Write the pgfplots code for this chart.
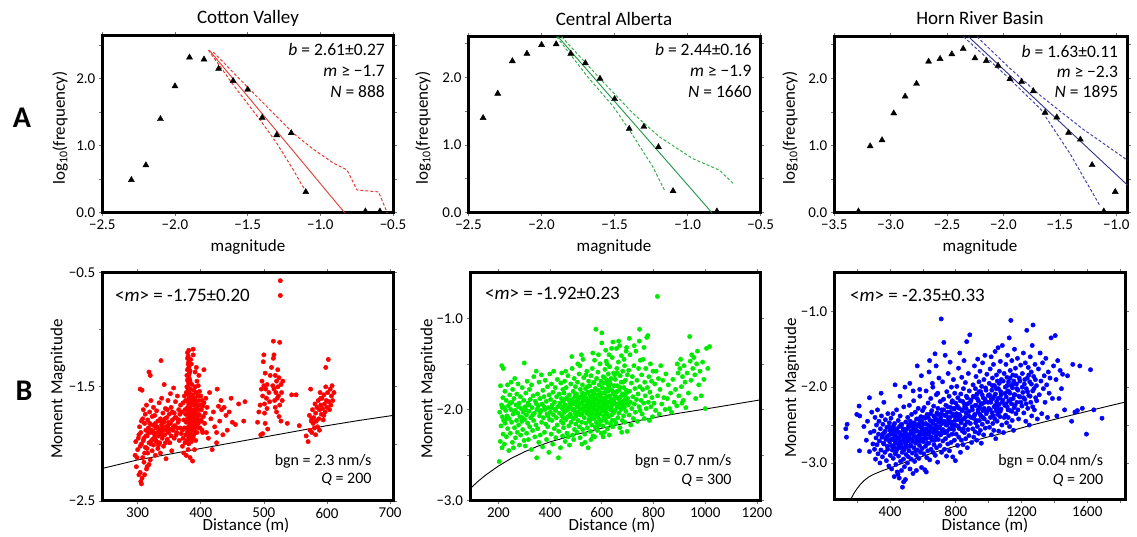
\documentclass[border=0pt]{standalone}
\usepackage{fontspec}
\setmainfont{Carlito}
\usepackage{pgfplots}
\pgfplotsset{compat=1.18}
\definecolor{fitred}{RGB}{225,60,50}
\definecolor{fitgreen}{RGB}{30,150,70}
\definecolor{fitgreenL}{RGB}{60,175,80}
\definecolor{fitblue}{RGB}{50,50,140}
\definecolor{fitblueL}{RGB}{70,70,170}
\definecolor{ptred}{RGB}{255,0,0}
\definecolor{ptgreen}{RGB}{0,235,0}
\definecolor{ptblue}{RGB}{0,0,255}
\pgfplotsset{
 panel/.style={scale only axis, anchor=south west,
   axis line style={line width=3pt, line join=miter},
   tick align=outside, major tick length=3.5pt,
   tick style={black!55, line width=0.7pt},
   ticklabel style={font=\fontsize{15}{17}\selectfont, text=black}},
 tri/.style={only marks, mark=triangle*, mark size=3.5pt, black},
 dots/.style={only marks, mark=*, mark size=2.2pt, mark options={draw=none, fill=#1}, color=#1},
}
\begin{document}
\begin{tikzpicture}[x=1pt,y=1pt]
\useasboundingbox (0,0) rectangle (1137,537);

% ---------------- A1 Cotton Valley
\begin{axis}[panel, at={(102.3pt,324.3pt)}, width=290.7pt, height=176.7pt,
  xmin=-2.5, xmax=-0.5, ymin=0, ymax=2.64,
  xtick={-2.5,-2,-1.5,-1,-0.5}, xticklabels={−2.5,−2.0,−1.5,−1.0,−0.5},
  ytick={0,0.5,1,1.5,2,2.5}, yticklabels={0.0,,1.0,,2.0,}, clip=false]
\addplot[fitred, line width=0.9pt] coordinates {(-1.765,2.43) (-0.833,0)};
\addplot[fitred, line width=1pt, dash pattern=on 3pt off 2pt] coordinates {(-1.736,2.40) (-1.494,1.86) (-1.185,1.185) (-1.05,0.95) (-0.909,0.74) (-0.817,0.64) (-0.748,0.34) (-0.599,0.31) (-0.54,0.0)};
\addplot[fitred, line width=1pt, dash pattern=on 3pt off 2pt] coordinates {(-1.770,2.43) (-1.598,1.906) (-1.414,1.384) (-1.299,1.036) (-1.185,0.637) (-1.127,0.413) (-1.104,0.34)};
\addplot[tri] coordinates {(-2.3,0.49) (-2.2,0.71) (-2.1,1.40) (-2.0,1.89) (-1.9,2.32) (-1.8,2.29) (-1.7,2.15) (-1.6,1.97) (-1.5,1.84) (-1.4,1.42) (-1.3,1.16) (-1.2,1.19) (-1.1,0.31) (-0.69,0.02) (-0.59,0.02)};
\end{axis}

% ---------------- A2 Central Alberta
\begin{axis}[panel, at={(468.5pt,324.3pt)}, width=292.2pt, height=176pt,
  xmin=-2.5, xmax=-0.5, ymin=0, ymax=2.6,
  xtick={-2.5,-2,-1.5,-1,-0.5}, xticklabels={−2.5,−2.0,−1.5,−1.0,−0.5},
  ytick={0,0.5,1,1.5,2,2.5}, yticklabels={0.0,,1.0,,2.0,}, clip=false]
\addplot[fitgreen, line width=0.9pt] coordinates {(-1.887,2.6) (-0.834,0)};
\addplot[fitgreenL, line width=1pt, dash pattern=on 3pt off 2pt] coordinates {(-1.863,2.6) (-1.591,1.96) (-1.375,1.47) (-1.193,1.12) (-0.966,0.80) (-0.784,0.63) (-0.682,0.42)};
\addplot[fitgreenL, line width=1pt, dash pattern=on 3pt off 2pt] coordinates {(-1.897,2.6) (-1.693,2.03) (-1.51,1.57) (-1.398,1.22) (-1.239,0.68) (-1.159,0.335)};
\addplot[tri] coordinates {(-2.4,1.40) (-2.3,1.76) (-2.2,2.24) (-2.1,2.35) (-2.0,2.48) (-1.9,2.49) (-1.8,2.35) (-1.7,2.21) (-1.6,1.98) (-1.5,1.68) (-1.4,1.24) (-1.3,1.27) (-1.2,0.97) (-1.1,0.32) (-0.8,0.02)};
\end{axis}

% ---------------- A3 Horn River Basin
\begin{axis}[panel, at={(834.3pt,324.3pt)}, width=293.2pt, height=176pt,
  xmin=-3.5, xmax=-0.9, ymin=0, ymax=2.62,
  xtick={-3.5,-3,-2.5,-2,-1.5,-1}, xticklabels={−3.5,−3.0,−2.5,−2.0,−1.5,−1.0},
  ytick={0,0.5,1,1.5,2,2.5}, yticklabels={0.0,,1.0,,2.0,}, clip=false]
\addplot[fitblue, line width=0.9pt] coordinates {(-2.31,2.62) (-0.9,0.41)};
\addplot[fitblueL, line width=1pt, dash pattern=on 3pt off 2pt] coordinates {(-2.235,2.62) (-1.95,2.16) (-1.67,1.74) (-1.3,1.25) (-0.9,0.78)};
\addplot[fitblueL, line width=1pt, dash pattern=on 3pt off 2pt] coordinates {(-2.354,2.62) (-1.95,2.0) (-1.67,1.54) (-1.41,0.88) (-1.15,0.12)};
\addplot[tri] coordinates {(-3.286,0.02) (-3.182,0.99) (-3.077,1.08) (-2.973,1.48) (-2.872,1.73) (-2.771,1.92) (-2.664,2.25) (-2.562,2.29) (-2.458,2.36) (-2.357,2.44) (-2.253,2.30) (-2.152,2.26) (-2.048,2.19) (-1.943,1.99) (-1.839,1.95) (-1.735,1.81) (-1.631,1.49) (-1.527,1.42) (-1.423,1.19) (-1.318,1.09) (-1.214,0.71) (-1.110,0.02) (-1.009,0.31)};
\end{axis}

% ---------------- B1 Cotton Valley
\begin{axis}[panel, at={(102.3pt,36pt)}, width=291pt, height=228.3pt,
  xmin=244, xmax=705, ymin=-2.5, ymax=-0.5,
  xtick={300,400,500,600,700}, xticklabels={300,400,500,600,700},
  ytick={-2.5,-2,-1.5,-1,-0.5}, yticklabels={−2.5,,−1.5,,−0.5}]
\addplot[dots=ptred] coordinates {
(296,-2.10)(298,-2.20)(300,-2.05)(301,-1.95)(302,-2.27)(303,-1.85)(304,-1.52)(305,-2.33)(305,-1.90)(306,-2.00)(307,-1.53)(308,-1.78)(308,-2.12)(309,-1.70)(310,-1.95)(310,-2.16)(311,-1.82)(312,-2.03)(312,-1.74)(313,-1.88)(314,-2.22)(314,-1.66)(315,-1.93)(316,-1.79)(316,-2.08)(317,-1.86)(318,-1.99)(318,-1.37)(319,-1.72)(320,-1.90)(320,-2.14)(321,-1.62)(321,-1.83)(322,-1.97)(323,-1.76)(323,-2.06)(324,-1.89)(325,-1.68)(325,-2.01)(326,-1.84)(327,-1.94)(327,-1.75)(328,-2.10)(329,-1.86)(330,-1.98)(330,-1.71)(331,-1.90)(332,-1.80)(332,-2.04)(333,-1.93)(334,-1.64)(334,-1.87)(335,-1.99)(336,-1.78)(336,-2.08)(337,-1.27)(337,-1.91)(338,-1.83)(338,-1.60)(339,-1.95)(340,-1.73)(340,-1.88)(341,-2.02)(342,-1.81)(342,-1.48)(343,-1.92)(344,-1.69)(345,-1.85)(345,-2.13)(346,-1.77)(347,-1.96)(348,-1.62)(348,-1.84)(349,-1.90)(350,-1.74)(351,-1.99)(352,-1.56)(352,-1.82)(353,-1.68)(354,-2.06)(355,-1.79)(356,-1.88)(357,-1.51)(358,-1.73)(358,-1.95)(359,-1.84)(360,-1.63)(361,-1.77)(362,-1.90)(363,-1.58)(364,-1.81)(365,-1.70)(366,-1.97)(367,-1.86)(368,-1.66)
(304,-2.25)(307,-2.30)(311,-2.27)(306,-2.35)(315,-2.20)(318,-2.18)(320,-1.40)
(297,-1.98)(299,-2.12)(302,-1.92)(304,-2.02)(306,-1.80)(309,-1.97)(311,-2.08)(313,-1.93)(315,-2.04)(317,-1.90)(319,-1.82)(321,-2.00)(322,-1.88)(324,-1.96)(326,-1.91)(328,-1.82)(329,-1.97)(331,-1.85)(333,-2.01)(335,-1.88)(337,-1.80)(339,-1.86)(341,-1.92)(343,-1.78)(344,-1.99)(346,-1.88)(347,-1.70)(349,-1.81)(351,-1.87)(353,-1.93)(355,-1.72)(357,-1.85)(359,-1.77)(361,-1.92)(363,-1.86)(365,-1.79)(367,-1.74)(369,-1.91)
(370,-1.72)(371,-1.88)(371,-2.02)(372,-1.64)(372,-1.95)(373,-1.79)(373,-2.08)(374,-1.58)(374,-1.86)(375,-1.70)(375,-1.99)(376,-1.92)(376,-1.62)(377,-1.81)(377,-2.10)(378,-1.50)(378,-1.74)(378,-1.97)(379,-1.25)(379,-1.35)(379,-1.44)(379,-1.56)(379,-1.68)(379,-1.89)(380,-1.30)(380,-1.40)(380,-1.52)(380,-1.63)(380,-1.78)(380,-1.93)(380,-2.05)(381,-1.18)(381,-1.33)(381,-1.47)(381,-1.60)(381,-1.72)(381,-1.85)(381,-2.00)(382,-1.38)(382,-1.55)(382,-1.66)(382,-1.82)(382,-1.95)(383,-1.45)(383,-1.59)(383,-1.76)(383,-1.90)(383,-2.12)(384,-1.52)(384,-1.70)(384,-1.87)(385,-1.62)(385,-1.80)(385,-1.98)(386,-1.48)(386,-1.74)(386,-1.92)(387,-1.57)(387,-1.84)(387,-2.15)(388,-1.66)(388,-1.17)(388,-1.95)(389,-1.53)(389,-1.78)(390,-1.60)(390,-1.88)(390,-2.05)(391,-1.50)(391,-1.72)(392,-1.64)(392,-1.83)(392,-1.97)(393,-1.55)(393,-1.76)(394,-1.45)(394,-1.68)(394,-1.90)(395,-1.58)(395,-1.80)(396,-1.49)(396,-1.70)(397,-1.62)(397,-1.86)(398,-1.54)(398,-1.75)(399,-1.66)(400,-1.58)(400,-1.79)(401,-1.70)(402,-1.62)(402,-1.88)(403,-1.67)(404,-1.76)(405,-1.35)(406,-1.82)(407,-1.73)(408,-1.60)(409,-1.90)(410,-1.68)
(393,-1.33)(397,-1.40)(391,-1.37)(385,-1.30)(384,-1.26)(388,-1.22)
(376,-1.74)(377,-1.55)(378,-1.86)(379,-1.78)(380,-1.70)(380,-1.86)(381,-1.92)(381,-1.65)(382,-1.75)(382,-1.88)(383,-1.68)(383,-1.82)(384,-1.60)(384,-1.78)(384,-1.95)(385,-1.70)(385,-1.88)(386,-1.58)(386,-1.83)(387,-1.65)(387,-1.76)(388,-1.86)(388,-1.72)(389,-1.63)(389,-1.92)(390,-1.70)(390,-1.80)(391,-1.62)(391,-1.90)(392,-1.74)(393,-1.68)(393,-1.85)(394,-1.78)(395,-1.66)(396,-1.82)(397,-1.74)(399,-1.86)(401,-1.80)(403,-1.90)(405,-1.64)
(379,-1.20)(380,-1.23)(381,-1.28)(380,-1.45)(379,-1.50)(378,-1.40)(382,-1.31)(383,-1.36)(382,-1.43)(381,-1.40)(380,-1.35)
(412,-1.95)(414,-1.55)(416,-1.78)(418,-2.05)(420,-1.72)(422,-1.85)(425,-1.90)(426,-1.52)(428,-1.67)(430,-1.80)(433,-1.70)(435,-1.92)(437,-1.68)(440,-1.75)(445,-1.72)(448,-1.60)(450,-1.81)(455,-1.83)(460,-1.65)(468,-1.80)(470,-1.63)(425,-1.99)(432,-1.62)(442,-1.88)
(490,-1.81)(492,-1.72)(494,-1.66)(495,-1.92)(496,-1.52)(497,-1.45)(498,-1.58)(499,-1.28)(500,-1.22)(500,-1.49)(501,-1.65)(501,-1.73)(502,-1.38)(502,-1.82)(503,-1.52)(504,-1.60)(505,-1.69)(505,-1.48)(506,-1.87)(508,-1.55)(510,-1.40)(512,-1.33)(514,-1.49)(515,-1.10)(515,-1.25)(516,-1.22)(516,-1.52)(517,-1.62)(518,-1.40)(518,-1.68)(519,-1.55)(520,-1.45)(520,-1.72)(521,-1.60)(522,-1.35)(522,-1.50)(523,-1.58)(524,-1.42)(525,-1.66)(525,-1.11)(526,-0.57)(526,-0.70)(527,-1.48)(528,-1.55)(529,-1.62)(530,-1.45)(498,-1.91)(509,-1.63)(524,-1.76)(527,-1.80)
(544,-1.57)(551,-1.57)(556,-1.84)(537,-1.82)
(567,-1.93)(570,-1.98)(572,-1.75)(573,-1.88)(574,-1.52)(575,-1.80)(576,-1.90)(577,-1.70)(578,-1.82)(579,-1.77)(580,-1.86)(581,-1.65)(582,-1.73)(583,-1.80)(584,-1.68)(585,-1.85)(586,-1.62)(587,-1.78)(588,-1.70)(589,-1.55)(590,-1.66)(591,-1.74)(592,-1.60)(593,-1.69)(594,-1.79)(595,-1.57)(596,-1.65)(597,-1.72)(598,-1.50)(598,-1.33)(599,-1.62)(600,-1.68)(601,-1.55)(602,-1.26)(603,-1.63)(604,-1.70)(605,-1.52)(606,-1.66)(607,-1.58)(608,-1.49)(609,-1.62)(611,-1.55)(588,-1.88)(582,-1.92)(576,-1.78)(595,-1.75)(590,-1.60)
};
\addplot[black, line width=0.9pt] coordinates {(244,-2.215)(300,-2.14)(350,-2.09)(400,-2.04)(450,-1.99)(500,-1.94)(550,-1.89)(600,-1.84)(650,-1.795)(705,-1.75)};
\end{axis}

% ---------------- B2 Central Alberta
\begin{axis}[panel, at={(470pt,36.3pt)}, width=290pt, height=228pt,
  xmin=90, xmax=1212, ymin=-3, ymax=-0.5,
  xtick={200,400,600,800,1000,1200}, xticklabels={200,400,600,800,1000,1200},
  ytick={-3,-2.5,-2,-1.5,-1}, yticklabels={−3.0,,−2.0,,−1.0}]
\addplot[dots=ptgreen] coordinates {
(203,-2.57)(205,-2.03)(207,-2.35)(208,-1.74)(210,-2.18)(212,-1.95)(213,-1.52)(214,-2.42)(215,-2.08)(217,-1.87)(218,-2.27)(219,-1.55)(220,-2.12)(222,-1.98)(223,-2.38)(225,-1.80)(226,-2.15)(228,-2.01)(230,-1.90)(231,-2.30)(233,-2.07)(235,-1.73)(236,-2.21)(238,-1.96)(240,-2.45)(242,-2.10)(244,-1.84)(246,-2.26)(248,-2.00)(249,-1.70)
(251,-2.14)(252,-1.92)(254,-2.36)(255,-1.78)(257,-2.05)(258,-2.42)(260,-1.88)(262,-2.20)(263,-1.66)(265,-2.01)(266,-2.31)(268,-1.95)(270,-2.12)(271,-1.83)(273,-2.25)(275,-2.04)(276,-1.72)(278,-2.17)(280,-1.93)(281,-2.39)(283,-2.08)(285,-1.86)(286,-2.28)(288,-1.99)(290,-2.13)(292,-1.76)(294,-2.22)(296,-2.03)(298,-1.90)(299,-2.34)
(300,-1.49)(301,-2.11)(303,-1.97)(304,-2.40)(306,-1.82)(308,-2.06)(309,-2.26)(311,-1.69)(313,-2.15)(314,-1.93)(316,-2.33)(318,-2.02)(320,-1.78)(321,-2.19)(323,-1.89)(325,-2.09)(327,-2.44)(328,-1.73)(330,-1.98)(332,-2.23)(334,-1.85)(336,-2.12)(337,-1.64)(339,-2.04)(341,-2.30)(343,-1.91)(345,-2.17)(346,-1.58)(348,-2.53)(349,-2.00)
(351,-1.83)(352,-2.21)(354,-1.96)(356,-2.36)(357,-1.70)(359,-2.07)(361,-1.88)(362,-2.28)(364,-2.01)(366,-1.62)(367,-2.14)(369,-1.94)(371,-2.41)(372,-1.79)(374,-2.09)(376,-1.86)(378,-2.25)(379,-2.00)(381,-1.68)(383,-2.16)(385,-1.91)(386,-2.33)(388,-2.05)(390,-1.75)(391,-2.19)(393,-1.98)(395,-2.47)(396,-1.84)(398,-2.11)(399,-1.61)
(401,-2.03)(402,-1.89)(404,-2.27)(405,-1.72)(407,-2.12)(408,-1.95)(410,-2.38)(411,-1.81)(413,-2.06)(414,-1.58)(416,-2.21)(417,-1.92)(419,-2.00)(420,-1.76)(422,-2.31)(424,-2.09)(425,-1.86)(427,-2.17)(428,-1.67)(430,-1.97)(432,-2.53)(433,-2.24)(435,-1.83)(436,-2.04)(438,-1.93)(440,-2.42)(441,-1.71)(443,-2.13)(444,-1.88)(446,-2.07)(447,-1.99)(448,-2.29)(449,-1.78)(450,-2.15)(445,-1.60)
(451,-1.91)(452,-2.20)(454,-1.82)(455,-2.03)(456,-1.69)(458,-2.35)(459,-1.95)(461,-2.11)(462,-1.76)(463,-2.01)(465,-2.26)(466,-1.87)(468,-2.08)(469,-1.63)(471,-1.98)(472,-2.18)(474,-1.84)(475,-2.39)(477,-1.93)(478,-2.05)(480,-1.72)(481,-2.14)(483,-1.89)(484,-1.42)(486,-2.00)(487,-2.28)(489,-1.80)(490,-2.10)(492,-1.94)(493,-1.66)(494,-2.22)(496,-1.86)(497,-2.04)(498,-1.75)(499,-2.16)(500,-1.91)(485,-1.55)(470,-2.30)(460,-1.58)(491,-2.33)
(501,-2.07)(502,-1.83)(504,-2.25)(505,-1.97)(506,-1.70)(508,-2.12)(509,-1.89)(510,-2.03)(512,-1.61)(513,-2.19)(514,-1.94)(516,-2.31)(517,-1.78)(518,-2.06)(520,-1.86)(521,-1.40)(522,-2.14)(524,-1.99)(525,-1.73)(526,-2.22)(528,-1.91)(529,-2.01)(530,-1.65)(532,-2.09)(533,-1.84)(534,-2.27)(536,-1.96)(537,-1.77)(538,-2.15)(540,-1.88)(541,-2.04)(542,-1.58)(544,-2.20)(545,-1.93)(546,-1.81)(547,-2.42)(548,-2.00)(549,-1.69)(550,-2.11)(515,-1.52)(527,-1.45)(535,-2.36)(507,-1.50)(523,-2.38)(539,-1.62)
(551,-1.90)(552,-2.13)(553,-1.74)(554,-2.02)(555,-1.85)(556,-2.24)(557,-1.96)(558,-1.63)(559,-2.08)(560,-1.80)(561,-2.17)(562,-1.92)(563,-1.55)(564,-2.04)(565,-1.87)(566,-2.29)(567,-1.98)(568,-1.71)(569,-2.10)(570,-1.83)(571,-2.00)(572,-1.46)(573,-1.94)(574,-2.19)(575,-1.77)(576,-2.06)(577,-1.12)(578,-1.89)(579,-2.14)(580,-1.66)(581,-2.01)(582,-1.84)(583,-2.23)(584,-1.95)(585,-1.59)(586,-2.09)(587,-1.79)(588,-1.99)(589,-2.16)(590,-1.73)(591,-1.91)(592,-2.05)(593,-1.50)(594,-1.86)(595,-2.12)(596,-1.97)(597,-1.69)(598,-2.26)(599,-1.82)(600,-1.16)(600,-1.27)(558,-2.33)(572,-2.30)(587,-1.40)(565,-1.38)
(601,-2.02)(602,-1.76)(603,-1.93)(604,-2.18)(605,-1.64)(606,-1.88)(607,-2.07)(608,-1.71)(609,-1.99)(610,-2.25)(611,-1.82)(612,-1.56)(613,-2.11)(614,-1.90)(615,-1.78)(616,-2.03)(617,-1.47)(618,-1.95)(619,-2.14)(620,-1.68)(621,-1.86)(622,-2.21)(623,-1.80)(624,-1.98)(625,-1.61)(626,-2.08)(627,-1.75)(628,-1.92)(629,-2.28)(630,-1.53)(631,-1.85)(632,-2.00)(633,-1.72)(634,-2.16)(635,-1.89)(636,-1.66)(637,-1.97)(638,-2.06)(639,-1.79)(640,-1.43)(641,-1.94)(642,-2.19)(643,-1.26)(644,-1.83)(645,-2.04)(646,-1.60)(647,-1.91)(648,-1.74)(649,-2.12)(650,-1.87)(615,-1.35)(628,-1.40)(605,-2.30)(638,-1.33)(620,-1.50)
(651,-2.01)(652,-1.67)(654,-1.94)(655,-2.15)(656,-1.81)(658,-1.55)(659,-1.98)(660,-1.74)(662,-2.09)(663,-1.88)(664,-1.48)(666,-2.04)(667,-1.79)(668,-1.93)(670,-2.20)(671,-1.63)(672,-1.86)(674,-2.00)(675,-1.70)(676,-1.41)(678,-1.97)(679,-2.12)(680,-1.83)(681,-1.58)(683,-1.95)(684,-2.07)(685,-1.76)(687,-1.90)(688,-1.52)(689,-2.14)(690,-1.85)(691,-1.68)(693,-2.02)(694,-1.36)(695,-1.79)(697,-1.93)(698,-2.24)(699,-1.62)(700,-1.88)(657,-1.33)(669,-1.30)(686,-1.45)(677,-2.25)(665,-1.25)(696,-1.32)
(702,-1.95)(704,-1.57)(705,-2.06)(707,-1.80)(709,-1.40)(710,-1.92)(712,-2.17)(714,-1.71)(716,-1.99)(718,-1.64)(720,-1.86)(722,-2.10)(724,-1.52)(726,-1.94)(728,-1.77)(730,-2.03)(732,-1.36)(734,-1.89)(736,-1.68)(738,-2.13)(740,-1.83)(742,-1.55)(744,-1.97)(746,-1.12)(747,-1.75)(748,-2.01)(749,-1.46)(706,-1.22)(725,-1.30)(745,-1.25)
(752,-1.90)(754,-1.62)(756,-2.05)(758,-1.78)(760,-1.45)(762,-1.93)(764,-2.10)(766,-1.70)(768,-1.85)(770,-1.55)(772,-1.99)(774,-1.21)(776,-1.76)(778,-1.19)(780,-1.92)(782,-1.64)(784,-2.12)(786,-1.81)(788,-1.50)(790,-1.97)(792,-1.69)(794,-1.87)(796,-2.08)(798,-1.58)(763,-1.32)
(802,-1.93)(805,-1.72)(808,-2.01)(810,-1.58)(815,-0.76)(816,-1.85)(819,-1.66)(822,-2.05)(825,-1.78)(828,-1.52)(832,-1.94)(836,-1.68)(840,-1.87)(845,-2.00)(848,-1.61)
(853,-1.88)(857,-1.73)(862,-1.99)(866,-1.82)(870,-2.03)(875,-1.67)(880,-1.92)(885,-1.78)(890,-1.96)(895,-1.60)(898,-1.85)(892,-1.50)
(902,-1.55)(905,-1.45)(908,-1.75)(912,-1.64)(915,-1.90)(918,-1.52)(922,-1.70)(925,-1.98)(930,-1.60)(935,-1.82)(940,-1.20)(942,-1.47)(945,-1.68)(948,-1.40)(910,-1.93)
(952,-1.55)(956,-1.43)(960,-1.62)(963,-1.88)(967,-1.50)(970,-1.36)(975,-1.73)(980,-1.58)(985,-1.85)(990,-1.48)(995,-1.67)(1000,-1.99)(1005,-1.33)(1010,-1.55)(1017,-1.31)
(455,-1.96)(462,-1.88)(468,-2.00)(473,-1.90)(478,-1.97)(482,-2.08)(488,-1.92)(493,-2.00)(497,-1.83)(503,-1.95)(507,-2.03)(511,-1.87)(515,-1.99)(519,-1.93)(523,-2.05)(527,-1.88)(531,-1.96)(535,-1.83)(539,-2.01)(543,-1.90)(547,-1.97)(551,-2.06)(555,-1.94)(559,-1.87)(563,-2.00)(567,-1.91)(571,-1.80)(575,-1.96)(579,-1.88)(583,-2.03)(587,-1.93)(591,-1.84)(595,-1.98)(599,-1.90)(603,-1.82)(607,-1.95)(611,-2.00)(615,-1.87)(619,-1.93)(623,-1.72)(627,-1.98)(631,-1.92)(635,-1.78)(639,-2.01)(643,-1.90)(647,-1.81)(651,-1.94)(655,-1.86)(659,-1.80)(663,-1.97)(667,-1.88)(671,-1.76)(675,-1.92)(679,-1.84)(683,-1.70)(687,-1.98)(691,-1.91)(695,-1.82)
(560,-2.10)(580,-2.20)(600,-2.12)(620,-2.05)(640,-2.12)(590,-2.17)(570,-1.70)(610,-1.65)(630,-1.70)(650,-1.62)(660,-1.60)(545,-1.75)(525,-1.82)
(262,-2.02)(278,-1.97)(292,-2.09)(305,-2.00)(318,-1.95)(333,-2.06)(347,-1.94)(362,-2.03)(377,-1.97)(392,-2.07)(406,-1.98)(421,-2.01)(437,-1.95)(452,-2.09)(215,-1.98)(232,-2.10)(245,-1.93)
};
\addplot[black, line width=0.9pt] coordinates {(90,-2.87)(120,-2.79)(150,-2.72)(200,-2.62)(250,-2.535)(300,-2.465)(350,-2.405)(400,-2.355)(500,-2.275)(600,-2.205)(700,-2.145)(800,-2.09)(900,-2.04)(1000,-1.995)(1100,-1.948)(1212,-1.895)};
\end{axis}

% ---------------- B3 Horn River Basin
\begin{axis}[panel, at={(834.3pt,37.7pt)}, width=290.7pt, height=226.6pt,
  xmin=60, xmax=1830, ymin=-3.48, ymax=-0.49,
  xtick={200,400,600,800,1000,1200,1400,1600,1800}, xticklabels={,400,,800,,1200,,1600,},
  ytick={-3,-2.5,-2,-1.5,-1}, yticklabels={−3.0,,−2.0,,−1.0}]
\addplot[dots=ptblue] coordinates {
(130,-2.55)(134,-2.66)(138,-2.49)(197,-2.36)(211,-2.25)(213,-2.84)(215,-2.38)(240,-2.52)(255,-2.70)(262,-2.45)(274,-2.14)(274,-2.85)(280,-2.60)(288,-2.33)(295,-2.75)
(302,-2.58)(305,-2.82)(308,-2.40)(311,-2.95)(314,-2.67)(317,-2.50)(320,-2.76)(323,-2.30)(326,-2.88)(329,-2.62)(332,-2.45)(335,-2.71)(338,-3.00)(341,-2.55)(344,-2.83)(347,-2.38)(350,-2.66)(353,-2.92)(356,-2.49)(359,-2.74)(362,-2.20)(365,-2.60)(368,-2.86)(371,-2.43)(374,-2.69)(377,-2.97)(380,-2.53)(383,-2.78)(386,-2.35)(389,-2.64)(392,-3.04)(395,-2.47)(397,-2.72)(399,-2.57)(345,-2.08)
(401,-2.90)(403,-2.62)(405,-2.41)(407,-2.77)(409,-3.08)(411,-2.55)(413,-2.83)(415,-2.68)(417,-2.35)(419,-2.94)(421,-2.60)(423,-2.79)(425,-3.18)(427,-2.48)(429,-2.71)(431,-2.88)(433,-2.56)(435,-3.02)(437,-2.65)(439,-2.30)(441,-2.82)(443,-3.12)(445,-2.59)(447,-2.74)(449,-2.44)(451,-2.91)(453,-2.67)(455,-3.20)(457,-2.52)(459,-2.80)(461,-2.38)(463,-2.98)(465,-2.63)(467,-2.76)(469,-3.10)(471,-2.49)(473,-2.86)(475,-3.32)(477,-2.70)(479,-2.57)(481,-2.95)(483,-2.26)(485,-2.83)(487,-3.05)(489,-2.61)(491,-2.73)(493,-3.22)(495,-2.46)(497,-2.89)(499,-2.66)(430,-1.97)(460,-2.12)(482,-3.25)(448,-3.15)(490,-2.00)
(501,-2.79)(503,-2.55)(505,-3.00)(507,-2.40)(509,-2.71)(511,-2.92)(513,-2.50)(515,-2.84)(517,-2.24)(519,-2.63)(521,-3.08)(523,-2.45)(525,-2.76)(527,-2.58)(529,-2.95)(531,-2.36)(533,-2.69)(535,-2.87)(537,-2.52)(539,-3.14)(541,-2.61)(543,-2.18)(545,-2.80)(547,-2.47)(549,-2.98)(551,-2.66)(553,-2.33)(555,-2.74)(557,-2.56)(559,-2.90)(561,-2.42)(563,-2.70)(565,-1.72)(567,-2.83)(569,-2.51)(571,-2.28)(573,-2.64)(575,-2.94)(577,-2.48)(579,-2.77)(581,-2.12)(583,-2.59)(585,-2.86)(587,-2.39)(589,-2.68)(591,-3.06)(593,-2.54)(595,-2.81)(597,-2.31)(599,-2.62)(520,-1.95)(580,-2.03)(560,-3.10)(590,-1.85)(540,-2.05)
(601,-2.72)(603,-2.49)(605,-2.88)(607,-2.27)(609,-2.60)(611,-3.09)(613,-2.41)(615,-2.78)(617,-2.55)(619,-2.05)(621,-2.68)(623,-2.93)(625,-2.36)(627,-2.62)(629,-2.84)(631,-2.21)(633,-2.50)(635,-2.74)(637,-1.80)(639,-2.58)(641,-2.96)(643,-2.44)(645,-2.67)(647,-2.15)(649,-2.82)(651,-2.53)(653,-2.31)(655,-2.70)(657,-1.95)(659,-2.47)(661,-2.86)(663,-2.60)(665,-2.25)(667,-2.76)(669,-2.39)(671,-2.57)(673,-1.56)(675,-2.90)(677,-2.43)(679,-2.65)(681,-2.10)(683,-2.80)(685,-2.34)(687,-2.54)(689,-2.99)(691,-2.28)(693,-2.69)(695,-2.46)(697,-1.88)(699,-2.61)(620,-3.12)(640,-1.65)(660,-2.00)(680,-1.72)(690,-2.08)
(701,-2.52)(703,-2.77)(705,-2.19)(707,-2.63)(709,-2.40)(711,-1.10)(713,-2.86)(715,-2.30)(717,-2.57)(719,-1.93)(721,-2.71)(723,-2.45)(725,-2.16)(727,-1.41)(729,-2.60)(731,-2.82)(733,-2.37)(735,-1.58)(737,-2.68)(739,-2.24)(741,-2.50)(743,-2.91)(745,-2.06)(747,-2.58)(749,-2.33)(751,-2.75)(753,-1.82)(755,-2.47)(757,-2.64)(759,-2.12)(761,-2.84)(763,-2.40)(765,-1.67)(767,-2.55)(769,-2.27)(771,-2.73)(773,-2.00)(775,-2.49)(777,-2.62)(779,-2.18)(781,-2.92)(783,-2.36)(785,-1.90)(787,-2.56)(789,-2.29)(791,-2.70)(793,-2.08)(795,-2.44)(797,-2.97)(799,-2.21)
(802,-2.62)(804,-2.35)(806,-1.99)(808,-2.51)(810,-2.77)(812,-2.14)(814,-2.43)(816,-1.75)(818,-2.66)(820,-2.28)(822,-2.55)(824,-1.55)(826,-2.38)(828,-2.86)(830,-2.09)(832,-2.47)(834,-2.70)(836,-1.87)(838,-2.31)(840,-2.58)(842,-2.19)(844,-2.76)(846,-2.02)(848,-2.42)(850,-1.65)(852,-2.60)(854,-2.26)(856,-2.50)(858,-1.94)(860,-2.68)(862,-2.34)(864,-2.12)(866,-1.40)(868,-2.46)(870,-2.80)(872,-2.22)(874,-2.56)(876,-1.82)(878,-2.38)(880,-2.64)(882,-2.05)(885,-1.31)(888,-2.48)(892,-2.17)(896,-2.73)
(901,-2.30)(903,-2.55)(905,-1.97)(907,-2.41)(909,-2.66)(911,-2.13)(913,-1.72)(915,-2.36)(917,-2.59)(919,-2.02)(921,-2.47)(923,-1.86)(925,-2.24)(927,-2.70)(929,-2.09)(931,-2.52)(933,-1.63)(935,-2.33)(937,-2.18)(939,-2.61)(941,-1.93)(943,-2.44)(945,-2.27)(947,-1.79)(949,-2.57)(951,-2.06)(953,-2.38)(955,-2.74)(957,-1.99)(959,-2.22)(961,-2.49)(963,-1.68)(965,-2.31)(967,-2.14)(969,-2.63)(971,-1.90)(973,-2.42)(975,-2.20)(977,-1.58)(979,-2.54)(981,-2.01)(985,-2.35)(989,-1.83)(993,-2.46)(997,-2.11)
(1001,-2.28)(1003,-1.95)(1005,-2.53)(1007,-2.12)(1009,-1.76)(1011,-2.40)(1013,-2.20)(1015,-1.60)(1017,-2.63)(1019,-2.04)(1021,-2.34)(1023,-1.88)(1025,-2.48)(1027,-2.15)(1029,-1.70)(1031,-2.57)(1033,-2.26)(1035,-1.98)(1037,-2.42)(1039,-1.53)(1041,-2.09)(1043,-2.68)(1045,-2.31)(1047,-1.84)(1049,-2.19)(1051,-2.45)(1053,-1.92)(1055,-2.36)(1057,-1.48)(1059,-2.02)(1061,-2.58)(1063,-2.23)(1065,-1.79)(1067,-2.14)(1069,-2.39)(1071,-1.66)(1073,-2.06)(1075,-2.29)(1077,-1.90)(1080,-2.50)(1083,-1.45)(1086,-2.17)(1090,-2.60)(1094,-1.82)(1098,-2.24)
(1101,-2.00)(1103,-2.37)(1105,-1.70)(1107,-2.13)(1109,-2.47)(1111,-1.87)(1113,-2.26)(1115,-1.58)(1117,-2.05)(1119,-2.40)(1121,-1.93)(1123,-2.18)(1125,-1.35)(1127,-2.52)(1129,-2.08)(1131,-1.78)(1133,-2.31)(1135,-1.12)(1137,-1.98)(1139,-2.22)(1141,-1.65)(1143,-2.44)(1145,-2.01)(1147,-1.84)(1149,-2.15)(1151,-2.57)(1153,-1.92)(1155,-2.27)(1157,-1.50)(1160,-2.10)(1163,-1.75)(1166,-2.35)(1169,-1.96)(1172,-2.20)(1175,-1.62)(1178,-2.04)(1182,-2.42)(1186,-1.88)(1190,-2.13)(1195,-1.71)
(1202,-2.25)(1205,-1.82)(1208,-2.07)(1211,-1.55)(1214,-2.34)(1217,-1.96)(1220,-2.16)(1223,-1.68)(1226,-2.45)(1229,-2.02)(1232,-1.25)(1235,-1.88)(1238,-2.28)(1241,-1.74)(1244,-2.11)(1247,-2.50)(1250,-1.93)(1253,-1.60)(1256,-2.20)(1259,-1.80)(1262,-2.38)(1265,-1.45)(1268,-2.05)(1270,-1.18)(1274,-1.86)(1278,-2.30)(1282,-1.70)(1286,-2.14)(1291,-1.98)(1296,-2.42)
(1303,-1.76)(1308,-2.10)(1313,-1.55)(1318,-1.92)(1323,-2.35)(1328,-1.68)(1333,-2.02)(1338,-1.85)(1343,-2.20)(1348,-1.62)(1353,-1.97)(1358,-2.40)(1363,-1.80)(1368,-2.08)(1373,-1.88)(1380,-1.35)(1388,-2.15)(1395,-1.72)
(1405,-1.32)(1410,-1.90)(1415,-2.38)(1420,-1.65)(1428,-2.15)(1435,-1.78)(1443,-2.02)(1450,-1.83)(1462,-2.30)(1480,-1.85)
(1505,-2.45)(1512,-1.70)(1525,-2.33)(1540,-2.31)(1555,-1.72)(1570,-2.28)(1595,-2.62)(1620,-1.77)(1640,-2.30)(1690,-2.41)
(355,-2.62)(362,-2.75)(370,-2.58)(378,-2.66)(385,-2.82)(391,-2.52)(398,-2.70)(404,-2.58)(410,-2.69)(416,-2.78)(420,-2.51)(426,-2.63)(432,-2.74)(436,-2.85)(442,-2.55)(446,-2.68)(452,-2.78)(456,-2.60)(462,-2.72)(466,-2.50)(472,-2.64)(476,-2.80)(480,-2.55)(486,-2.68)(492,-2.58)(496,-2.76)(502,-2.62)(506,-2.70)(512,-2.53)(516,-2.66)(522,-2.78)(526,-2.48)(532,-2.60)(536,-2.71)(542,-2.56)(546,-2.65)(552,-2.50)(556,-2.84)(562,-2.58)(566,-2.66)(572,-2.42)(576,-2.72)(582,-2.52)(586,-2.62)(592,-2.45)(596,-2.70)(602,-2.58)(606,-2.40)(612,-2.66)(616,-2.48)(622,-2.56)(626,-2.74)(632,-2.40)(636,-2.62)(642,-2.52)(646,-2.35)(652,-2.66)(656,-2.45)(662,-2.55)(666,-2.38)(672,-2.70)(676,-2.50)(682,-2.42)(686,-2.60)(692,-2.36)(696,-2.54)(702,-2.44)(706,-2.62)(712,-2.35)(716,-2.48)(722,-2.56)(726,-2.30)(732,-2.45)(736,-2.60)(742,-2.38)(746,-2.50)(752,-2.26)(756,-2.42)(762,-2.55)(766,-2.33)(772,-2.46)(776,-2.20)(782,-2.52)(786,-2.38)(792,-2.28)(796,-2.50)
(803,-2.40)(809,-2.25)(815,-2.52)(821,-2.36)(827,-2.18)(833,-2.44)(839,-2.30)(845,-2.55)(851,-2.22)(857,-2.40)(863,-2.28)(869,-2.14)(875,-2.46)(881,-2.32)(887,-2.20)(893,-2.40)(899,-2.26)(906,-2.12)(912,-2.38)(918,-2.24)(924,-2.44)(930,-2.15)(936,-2.30)(942,-2.06)(948,-2.36)(954,-2.22)(960,-2.10)(966,-2.40)(972,-2.28)(978,-2.16)(984,-2.04)(990,-2.32)(996,-2.20)(1004,-2.10)(1010,-2.30)(1016,-2.16)(1022,-1.98)(1028,-2.38)(1034,-2.12)(1040,-2.24)(1046,-2.02)(1052,-2.28)(1058,-2.15)(1064,-1.95)(1070,-2.32)(1076,-2.10)(1082,-2.20)(1088,-1.92)(1094,-2.40)(1100,-2.08)(1106,-2.22)(1112,-1.98)(1118,-2.30)(1124,-2.06)(1130,-1.88)(1136,-2.16)(1142,-2.32)(1148,-1.96)(1154,-2.10)(1160,-2.24)(1166,-1.85)(1172,-2.02)(1178,-2.30)(1184,-2.12)(1190,-1.92)(1196,-2.20)(1204,-2.00)(1212,-2.14)(1220,-1.90)(1228,-2.22)(1236,-2.06)(1244,-1.84)(1252,-2.12)(1260,-1.96)(1268,-2.26)(1276,-2.02)(1284,-1.90)(1292,-2.18)
};
\addplot[black, line width=0.9pt] coordinates {(160,-3.48)(180,-3.40)(200,-3.335)(220,-3.28)(240,-3.235)(270,-3.185)(300,-3.15)(350,-3.105)(400,-3.066)(500,-2.985)(603,-2.909)(700,-2.84)(796,-2.78)(900,-2.715)(989,-2.661)(1100,-2.6)(1203,-2.536)(1300,-2.48)(1400,-2.426)(1500,-2.372)(1599,-2.32)(1700,-2.265)(1830,-2.198)};
\end{axis}

% ---------------- texts
\node[font=\fontsize{19}{21}\selectfont] at (248,518.5) {Cotton Valley};
\node[font=\fontsize{19}{21}\selectfont] at (614,518.5) {Central Alberta};
\node[font=\fontsize{19}{21}\selectfont] at (980,518.5) {Horn River Basin};
\node[font=\fontsize{30}{32}\selectfont\bfseries] at (22,419.5) {A};
\node[font=\fontsize{30}{32}\selectfont\bfseries] at (24,146) {B};

\foreach \cx in {248,614,980} {\node[font=\fontsize{17}{19}\selectfont] at (\cx,290) {magnitude};}
\foreach \cx in {60,423,790} {\node[font=\fontsize{17}{19}\selectfont, rotate=90] at (\cx,409) {log\textsubscript{10}(frequency)};}
\node[font=\fontsize{17}{19}\selectfont] at (246,12) {Distance (m)};
\node[font=\fontsize{17}{19}\selectfont] at (612,12) {Distance (m)};
\node[font=\fontsize{17}{19}\selectfont] at (985,12) {Distance (m)};
\node[font=\fontsize{17}{19}\selectfont, rotate=90] at (58,148) {Moment Magnitude};
\node[font=\fontsize{17}{19}\selectfont, rotate=90] at (428,148) {Moment Magnitude};
\node[font=\fontsize{17}{19}\selectfont, rotate=90] at (791.7,149) {Moment Magnitude};

\begin{scope}[every node/.style={font=\fontsize{17.5}{19}\selectfont, anchor=east, inner sep=0pt}]
\node at (385,487) {\textit{b} = 2.61±0.27};
\node at (385,466.3) {\textit{m} ≥ −1.7};
\node at (385,445.3) {\textit{N} = 888};
\node at (751.7,487) {\textit{b} = 2.44±0.16};
\node at (751.7,466.3) {\textit{m} ≥ −1.9};
\node at (751.7,445.3) {\textit{N} = 1660};
\node at (1118.3,485.3) {\textit{b} = 1.63±0.11};
\node at (1118.3,465.3) {\textit{m} ≥ −2.3};
\node at (1118.3,445.3) {\textit{N} = 1895};
\end{scope}
\begin{scope}[every node/.style={font=\fontsize{19}{21}\selectfont, anchor=west, inner sep=0pt}]
\node at (115,242) {\textless\textit{m}\textgreater\ = -1.75±0.20};
\node at (485,243.7) {\textless\textit{m}\textgreater\ = -1.92±0.23};
\node at (850,242) {\textless\textit{m}\textgreater\ = -2.35±0.33};
\end{scope}
\begin{scope}[every node/.style={font=\fontsize{16}{18}\selectfont, anchor=east, inner sep=0pt}]
\node at (371.7,75.3) {bgn = 2.3 nm/s};
\node at (371.7,57.7) {\textit{Q} = 200};
\node at (731.7,75.3) {bgn = 0.7 nm/s};
\node at (731.7,57) {\textit{Q} = 300};
\node at (1103.3,75.3) {bgn = 0.04 nm/s};
\node at (1103.3,56.3) {\textit{Q} = 200};
\end{scope}
\end{tikzpicture}
\end{document}
